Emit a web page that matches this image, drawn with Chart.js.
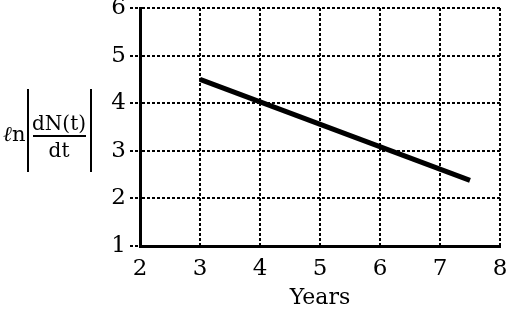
<!DOCTYPE html>
<html>
<head>
<meta charset="utf-8">
<script src="https://cdn.jsdelivr.net/npm/chart.js@4"></script>
<style>
  html, body { margin: 0; padding: 0; background: #fff; }
  #wrap { width: 512px; height: 316px; }
</style>
</head>
<body>
<div id="wrap"><canvas id="decay"></canvas></div>
<script>
Chart.defaults.color = '#000';
Chart.defaults.font.family = '"DejaVu Serif", "Liberation Serif", serif';

// data
const years = [3, 7.5];
const lnRate = [4.5, 2.38];
const xRange = [2, 8];
const yRange = [1, 6];

const yTitle = {
  id: 'yTitle',
  afterDraw(chart) {
    const ctx = chart.ctx;
    ctx.save();
    ctx.fillStyle = '#000';
    ctx.strokeStyle = '#000';
    ctx.textBaseline = 'alphabetic';
    ctx.textAlign = 'left';
    ctx.font = 'italic 21px "DejaVu Serif", serif';
    ctx.fillText('\u2113', 3, 141);
    ctx.font = '21px "DejaVu Serif", serif';
    ctx.fillText('n', 12, 141);
    ctx.lineWidth = 2;
    ctx.beginPath();
    ctx.moveTo(28, 89); ctx.lineTo(28, 172);
    ctx.moveTo(91, 89); ctx.lineTo(91, 172);
    ctx.moveTo(33, 136); ctx.lineTo(86, 136);
    ctx.stroke();
    ctx.textAlign = 'center';
    ctx.font = '20px "DejaVu Serif", serif';
    ctx.fillText('dN(t)', 59, 130);
    ctx.fillText('dt', 59, 157);
    ctx.restore();
  }
};

new Chart(document.getElementById('decay'), {
  type: 'scatter',
  data: {
    datasets: [{
      data: years.map((x, i) => ({ x: x, y: lnRate[i] })),
      showLine: true,
      borderColor: '#000',
      borderWidth: 5,
      pointRadius: 0
    }]
  },
  options: {
    responsive: true,
    maintainAspectRatio: false,
    animation: false,
    layout: { padding: { top: 8, right: 12, left: 0, bottom: 0 } },
    plugins: { legend: { display: false }, tooltip: { enabled: false } },
    scales: {
      x: {
        type: 'linear',
        min: xRange[0], max: xRange[1],
        ticks: { stepSize: 1, font: { size: 23 }, padding: 9 },
        grid: { color: '#000', lineWidth: 2, drawTicks: false },
        border: { display: true, color: '#000', width: 3, dash: [3, 2] },
        title: { display: true, text: 'Years', font: { size: 22 }, padding: { top: 0, bottom: 5 } },
        afterFit(s) { s.height = 70; s.paddingLeft = 0; s.paddingRight = 0; }
      },
      y: {
        min: yRange[0], max: yRange[1],
        ticks: { stepSize: 1, font: { size: 23 }, padding: 4 },
        grid: { color: '#000', lineWidth: 2, tickLength: 10, tickBorderDash: [3, 2] },
        border: { display: true, color: '#000', width: 3, dash: [3, 2] },
        afterFit(s) { s.width = 140; s.paddingTop = 0; s.paddingBottom = 0; }
      }
    }
  },
  plugins: [yTitle]
});
</script>
</body>
</html>
